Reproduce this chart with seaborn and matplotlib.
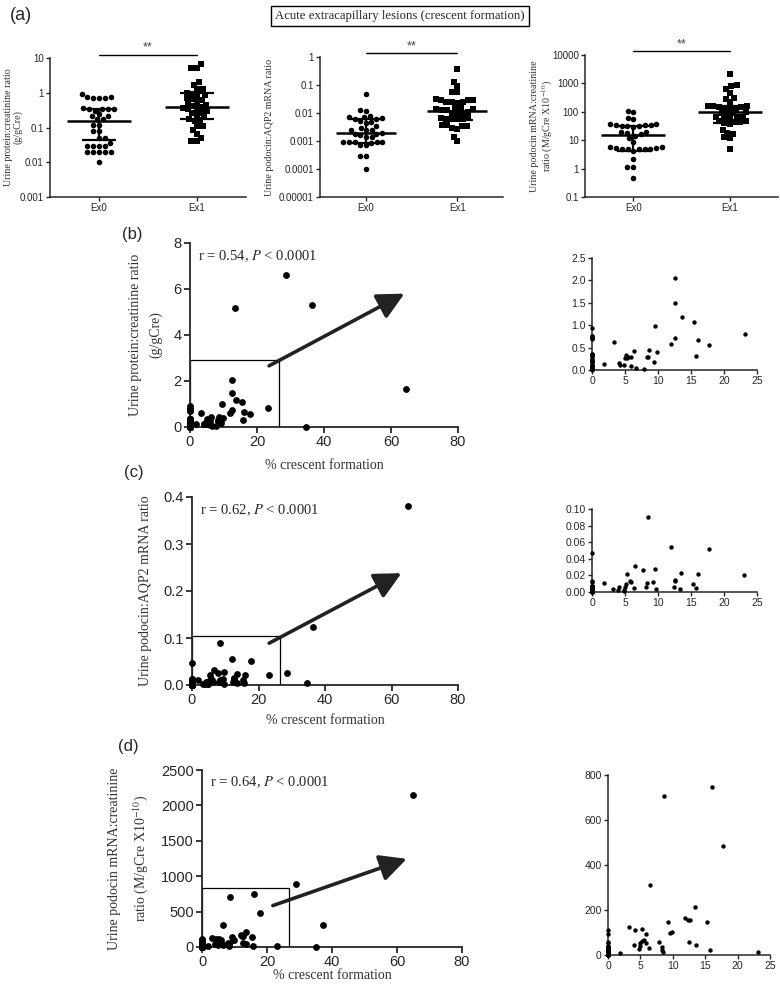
import numpy as np
import pandas as pd
import matplotlib
matplotlib.use("Agg")
import matplotlib.pyplot as plt
import matplotlib.ticker as mticker
from matplotlib.patches import Rectangle
from matplotlib.transforms import blended_transform_factory
import seaborn as sns

# ---------- STYLE ----------
sns.set_style("ticks")
plt.rcParams["font.family"] = ["Liberation Sans Narrow", "Liberation Sans", "DejaVu Sans"]
plt.rcParams["mathtext.fontset"] = "stix"
plt.rcParams["axes.linewidth"] = 1.3
SERIF = ["Liberation Serif", "DejaVu Serif"]

# ---------- DATA: (a) Ex0 vs Ex1 ----------
groups = ["Ex0", "Ex1"]

upcr_ex0 = [0.93, 0.72, 0.70, 0.72, 0.77, 0.77, 0.35, 0.33, 0.30, 0.33, 0.36, 0.33,
            0.22, 0.24, 0.21, 0.17, 0.18, 0.12, 0.12, 0.08, 0.08, 0.05, 0.05, 0.037,
            0.03, 0.03, 0.03, 0.03, 0.02, 0.02, 0.02, 0.02, 0.02, 0.01]
upcr_ex1 = [6.8, 5.3, 5.2, 2.1, 1.7, 1.3, 1.25, 1.0, 0.95, 0.85, 0.8, 0.7, 0.65,
            0.62, 0.55, 0.5, 0.45, 0.42, 0.4, 0.36, 0.33, 0.32, 0.3, 0.27, 0.26,
            0.22, 0.2, 0.17, 0.16, 0.15, 0.11, 0.11, 0.085, 0.065, 0.05, 0.04, 0.04]
upcr_med, upcr_q1, upcr_q3 = [0.15, 0.40], [0.043, 0.17], [0.33, 1.0]

aqp2_ex0 = [0.047, 0.013, 0.012, 0.0075, 0.0072, 0.0070, 0.0068, 0.0060, 0.0063,
            0.0048, 0.0050, 0.0045, 0.0035, 0.0030, 0.0025, 0.0025, 0.0024, 0.0018,
            0.0018, 0.0017, 0.0019, 0.0014, 0.0014, 0.00093, 0.0009, 0.00095, 0.0009,
            0.00088, 0.00091, 0.0007, 0.0007, 0.0003, 0.0003, 0.0001]
aqp2_ex1 = [0.38, 0.13, 0.09, 0.056, 0.055, 0.03, 0.028, 0.028, 0.031, 0.024, 0.024,
            0.025, 0.023, 0.014, 0.015, 0.013, 0.014, 0.015, 0.013, 0.010, 0.011,
            0.010, 0.010, 0.0063, 0.0065, 0.006, 0.0062, 0.0064, 0.006, 0.0036,
            0.0035, 0.0037, 0.0034, 0.0028, 0.0027, 0.0014, 0.001]
aqp2_med, aqp2_q1, aqp2_q3 = [0.002, 0.012], [0.00085, 0.0055], [0.0062, 0.025]

podo_ex0 = [110, 95, 60, 55, 38, 35, 36, 32, 32, 33, 31, 30, 34, 19, 20, 18, 16, 14,
            12, 8.5, 5.6, 5.5, 5.4, 5.6, 5.0, 5.0, 4.8, 4.9, 5.1, 4.2, 2.2, 1.1, 1.1, 0.45]
podo_ex1 = [2100, 850, 790, 640, 460, 300, 290, 220, 160, 155, 150, 145, 160, 140,
            130, 125, 95, 90, 92, 88, 65, 68, 62, 66, 60, 45, 47, 44, 46, 40, 38, 22,
            18, 17, 12.5, 12, 5]
podo_med, podo_q1, podo_q3 = [15, 95], [4.3, 40], [32, 160]

# ---------- DATA: (b)-(d) % crescent (Ex1 patients; Ex0 patients sit at 0 %) ----------
b_x = [1.8, 3.3, 4.1, 4.3, 4.9, 5.0, 5.2, 5.3, 5.5, 5.9, 5.9, 6.4, 6.6, 7.9, 8.4, 8.5,
       8.6, 9.4, 9.6, 9.8, 12.0, 12.5, 12.5, 12.6, 13.6, 15.4, 15.8, 16.0, 17.8, 23.2,
       13.3, 28.6, 36.5, 34.5, 64.5]
b_y = [0.13, 0.63, 0.15, 0.11, 0.11, 0.26, 0.34, 0.26, 0.28, 0.28, 0.08, 0.42, 0.05,
       0.03, 0.30, 0.28, 0.45, 0.17, 0.98, 0.40, 0.59, 2.05, 1.49, 0.72, 1.18, 1.07,
       0.32, 0.67, 0.56, 0.81, 5.18, 6.63, 5.32, 0.02, 1.66]

c_x = [1.8, 3.2, 4.0, 4.1, 4.8, 4.9, 5.0, 5.1, 5.3, 5.75, 5.9, 6.4, 6.55, 7.8, 8.2, 8.3,
       8.55, 9.25, 9.5, 9.7, 11.9, 12.4, 12.5, 12.6, 13.4, 13.5, 15.3, 15.7, 16.0, 17.7,
       23.1, 28.6, 34.5, 36.5, 65.0]
c_y = [0.011, 0.0031, 0.0026, 0.006, 0.0026, 0.0013, 0.006, 0.0091, 0.0215, 0.0135,
       0.0117, 0.0054, 0.0316, 0.026, 0.006, 0.0109, 0.090, 0.0124, 0.0272, 0.0031,
       0.0547, 0.006, 0.0148, 0.0135, 0.0034, 0.0226, 0.0101, 0.0049, 0.0215, 0.0513,
       0.0205, 0.025, 0.004, 0.124, 0.38]

d_x = [1.8, 3.2, 4.0, 4.2, 4.8, 4.9, 5.0, 5.2, 5.3, 5.5, 5.8, 5.9, 6.4, 6.55, 7.9, 8.3,
       8.4, 8.45, 8.6, 9.3, 9.5, 9.8, 11.9, 12.4, 12.5, 12.65, 13.45, 13.6, 15.35, 15.75,
       16.05, 17.7, 23.1, 29.0, 35.2, 37.2, 65.0]
d_y = [10, 124, 43, 111, 27, 41, 52, 115, 62, 68, 95, 52, 33, 309, 60, 37, 23, 14, 707,
       146, 97, 103, 163, 155, 60, 155, 214, 45, 146, 21, 748, 485, 12, 887, 5, 306, 2150]

# correlation texts, zoom boxes (x, y corner) and arrows (start, tip)
r_texts = ["r = 0.54, $P$ < 0.0001", "r = 0.62, $P$ < 0.0001", "r = 0.64, $P$ < 0.0001"]
zoom_boxes = [(26.6, 2.9), (26.4, 0.105), (26.8, 840)]
arrows = [((23.6, 2.66), (64, 5.8)), ((23.2, 0.089), (63, 0.238)), ((21.8, 585), (63, 1245))]

# ---------- LAYOUT (pixel boxes: left, top, right, bottom) ----------
W, H = 780, 984
fig = plt.figure(figsize=(W / 100, H / 100), dpi=100)


def box(l, t, r, b):
    return [l / W, 1 - b / H, (r - l) / W, (b - t) / H]


def dot_panel(ax, ex0, ex1, med, q1, q3, ticks, ylabel, label_x):
    ax.set_yscale("log")
    df = pd.DataFrame({"group": ["Ex0"] * len(ex0) + ["Ex1"] * len(ex1),
                       "value": ex0 + ex1})
    sns.swarmplot(data=df[df.group == "Ex0"], x="group", y="value", order=groups,
                  marker="o", size=4, color="k", ax=ax, zorder=3)
    sns.swarmplot(data=df[df.group == "Ex1"], x="group", y="value", order=groups,
                  marker="s", size=3.8, color="k", ax=ax, zorder=3)
    pos = np.arange(len(groups))
    ax.hlines(med, pos - 0.33, pos + 0.33, color="k", lw=1.8, zorder=4)
    ax.vlines(pos, q1, q3, color="k", lw=1.6, zorder=4)
    ax.hlines(q1, pos - 0.17, pos + 0.17, color="k", lw=1.6, zorder=4)
    ax.hlines(q3, pos - 0.17, pos + 0.17, color="k", lw=1.6, zorder=4)
    ax.set_ylim(ticks[0], ticks[-1])
    ax.set_yticks(ticks, [f"{t:.10f}".rstrip("0").rstrip(".") for t in ticks])
    ax.yaxis.set_minor_locator(mticker.NullLocator())
    ax.set_xlim(-0.5, 1.5)
    ax.set_xlabel("")
    ax.set_ylabel(ylabel, family=SERIF, size=7.2, linespacing=1.1, color="#333333")
    ax.yaxis.set_label_coords(label_x, 0.5)
    ax.tick_params(labelsize=7, length=3, width=1, pad=1.5)
    for s in ["left", "bottom"]:
        ax.spines[s].set_linewidth(1.1)
    tr = blended_transform_factory(ax.transData, ax.transAxes)
    ax.plot(pos, [1.025, 1.025], transform=tr, color="k", lw=1, clip_on=False)
    ax.text(pos.mean(), 1.03, "**", transform=tr, ha="center", va="bottom", size=9,
            color="#444444")
    sns.despine(ax=ax)


# ---------- (a) ----------
fig.text(10 / W, 1 - 15 / H, "(a)", ha="left", va="center", size=13)
fig.text(400 / W, 1 - 16 / H, "Acute extracapillary lesions (crescent formation)",
         ha="center", va="center", size=9.2, family=SERIF,
         bbox=dict(boxstyle="square,pad=0.35", fc="white", ec="black", lw=1))

# label_x = right edge of the y label, in axes fraction
ax1 = fig.add_axes(box(50, 58, 246, 197))
dot_panel(ax1, upcr_ex0, upcr_ex1, upcr_med, upcr_q1, upcr_q3,
          [0.001, 0.01, 0.1, 1, 10], "Urine protein:creatinine ratio\n(g/gCre)",
          (23 - 50) / 196)
ax2 = fig.add_axes(box(320, 57, 503, 197))
dot_panel(ax2, aqp2_ex0, aqp2_ex1, aqp2_med, aqp2_q1, aqp2_q3,
          [0.00001, 0.0001, 0.001, 0.01, 0.1, 1], "Urine podocin:AQP2 mRNA ratio",
          (274 - 320) / 183)
ax3 = fig.add_axes(box(585, 55, 778, 197))
dot_panel(ax3, podo_ex0, podo_ex1, podo_med, podo_q1, podo_q3,
          [0.1, 1, 10, 100, 1000, 10000],
          "Urine podocin mRNA:creatinine\nratio (M/gCre X10$^{-10}$)",
          (555 - 585) / 193)


# ---------- (b)-(d) ----------
def corr_panel(ax, axz, zero_vals, xs, ys, ymax, ystep, yfmt, zmax, zstep, zfmt,
               ylabel, rtext, zbox, arrow, xpad):
    x_all = np.array([0.0] * len(zero_vals) + xs)
    y_all = np.array(zero_vals + ys)
    sns.scatterplot(x=x_all, y=y_all, ax=ax, color="k", s=24, linewidth=0,
                    legend=False, clip_on=False, zorder=3)
    ax.set_xlim(0, 80)
    ax.set_ylim(0, ymax)
    ax.xaxis.set_major_locator(mticker.MultipleLocator(20))
    ax.yaxis.set_major_locator(mticker.MultipleLocator(ystep))
    ax.yaxis.set_major_formatter(mticker.FormatStrFormatter(yfmt))
    ax.tick_params(labelsize=10.5, length=4, width=1.3, pad=2)
    ax.set_xlabel("% crescent formation", family=SERIF, size=10, color="#333333",
                  labelpad=xpad)
    ax.set_ylabel(ylabel, family=SERIF, size=10, linespacing=1.7, color="#333333",
                  labelpad=8)
    ax.text(0.03, 0.93, rtext, transform=ax.transAxes, family=SERIF, size=10.5,
            ha="left", va="center")
    ax.add_patch(Rectangle((0, 0), zbox[0], zbox[1], fill=False, ec="k", lw=0.9,
                           zorder=2))
    ax.annotate("", xy=arrow[1], xytext=arrow[0], annotation_clip=False,
                arrowprops=dict(arrowstyle="-|>,head_length=0.9,head_width=0.45",
                                lw=2.6, color="#222222", mutation_scale=18,
                                shrinkA=0, shrinkB=0))
    sns.despine(ax=ax)

    # zoomed view of the low range
    keep = (x_all <= 25) & (y_all <= zmax)
    sns.scatterplot(x=x_all[keep], y=y_all[keep], ax=axz, color="k", s=10,
                    linewidth=0, legend=False, clip_on=False, zorder=3)
    axz.set_xlim(0, 25)
    axz.set_ylim(0, zmax)
    axz.xaxis.set_major_locator(mticker.MultipleLocator(5))
    axz.yaxis.set_major_locator(mticker.MultipleLocator(zstep))
    axz.yaxis.set_major_formatter(mticker.FormatStrFormatter(zfmt))
    axz.tick_params(labelsize=7.5, length=3, width=1, pad=1.5)
    for s in ["left", "bottom"]:
        axz.spines[s].set_linewidth(1.1)
    sns.despine(ax=axz)


axb = fig.add_axes(box(190, 243, 458, 427))
axbz = fig.add_axes(box(592, 258, 757, 370))
corr_panel(axb, axbz, upcr_ex0, b_x, b_y, 8, 2, "%d", 2.5, 0.5, "%.1f",
           "Urine protein:creatinine ratio\n(g/gCre)", r_texts[0], zoom_boxes[0],
           arrows[0], 7)

axc = fig.add_axes(box(192, 497, 458, 685))
axcz = fig.add_axes(box(592, 509, 757, 592))
corr_panel(axc, axcz, aqp2_ex0, c_x, c_y, 0.4, 0.1, "%.1f", 0.10, 0.02, "%.2f",
           "Urine podocin:AQP2 mRNA ratio", r_texts[1], zoom_boxes[1], arrows[1], 5)

axd = fig.add_axes(box(202, 770, 462, 947))
axdz = fig.add_axes(box(608, 775, 770, 955))
corr_panel(axd, axdz, podo_ex0, d_x, d_y, 2500, 500, "%d", 800, 200, "%d",
           "Urine podocin mRNA:creatinine\nratio (M/gCre X10$^{-10}$)",
           r_texts[2], zoom_boxes[2], arrows[2], 0)

fig.text(132 / W, 1 - 234 / H, "(b)", ha="center", va="center", size=12)
fig.text(134 / W, 1 - 472 / H, "(c)", ha="center", va="center", size=12)
fig.text(128 / W, 1 - 746 / H, "(d)", ha="center", va="center", size=12)

fig.savefig("out.png", dpi=100)
